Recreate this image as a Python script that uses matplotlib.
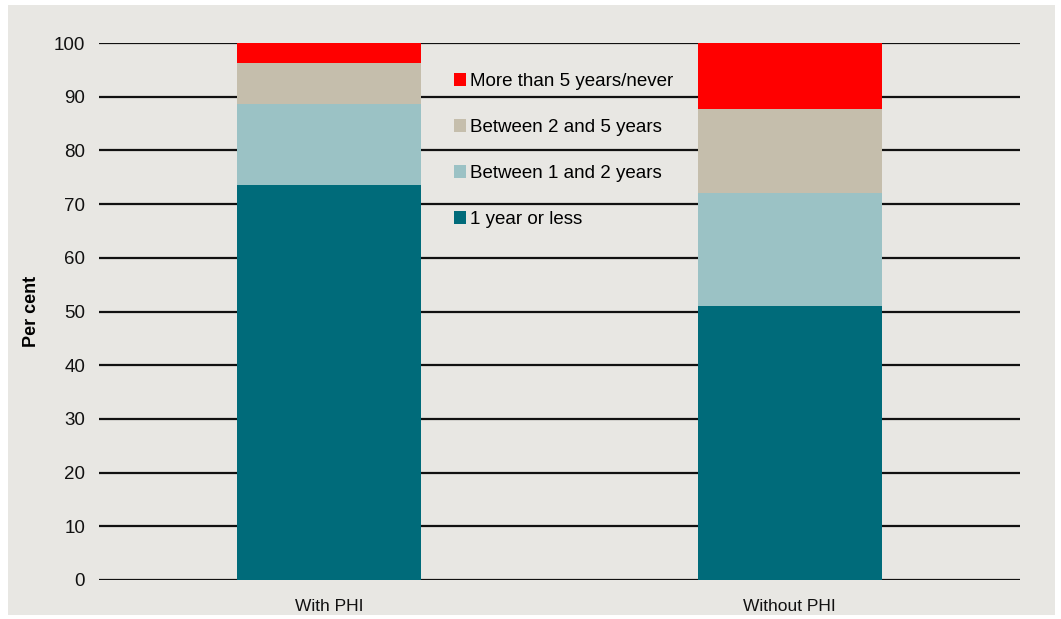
import matplotlib.pyplot as plt
import matplotlib.patches as patches
import numpy as np

plt.rcParams['font.family'] = ['Liberation Sans Narrow', 'Liberation Sans', 'DejaVu Sans']

# Data
groups = ["With PHI", "Without PHI"]
series_labels = ["1 year or less", "Between 1 and 2 years",
                 "Between 2 and 5 years", "More than 5 years/never"]
one_year_or_less = [73.6, 51.0]
one_to_two = [15.0, 21.1]
two_to_five = [7.7, 15.7]
more_than_five = [3.7, 12.2]
series_values = [one_year_or_less, one_to_two, two_to_five, more_than_five]
colors = ['#006B7A', '#9BC2C5', '#C5BEAC', '#FF0000']

BG = '#E8E7E3'

fig = plt.figure(figsize=(10.61, 6.19), dpi=100, facecolor='white')
# grey panel behind chart
fig.patches.append(patches.Rectangle((8 / 1061, 4 / 619), 1047 / 1061, 610 / 619,
                                     transform=fig.transFigure, facecolor=BG,
                                     edgecolor='none', zorder=-10))
ax = fig.add_axes([99 / 1061, 39 / 619, 921 / 1061, 537 / 619])
ax.set_zorder(1)
ax.set_facecolor('none')

x = np.arange(len(groups))
bottom = np.zeros(len(groups))
bars = []
for vals, col, lab in zip(series_values, colors, series_labels):
    b = ax.bar(x, vals, 0.4, bottom=bottom, color=col, label=lab, edgecolor='none', zorder=3)
    bars.append(b)
    bottom += np.array(vals)

ax.set_xlim(-0.5, 1.5)
ax.set_ylim(0, 100)
ax.set_yticks(np.arange(0, 101, 10))
ax.yaxis.grid(True, color='#111111', linewidth=1.6)
ax.set_axisbelow(True)
for s in ax.spines.values():
    s.set_visible(False)
ax.tick_params(axis='both', length=0)
ax.tick_params(axis='y', labelsize=13.5, pad=10, colors='#111111')
ax.set_xticks(x)
ax.set_xticklabels(groups, fontsize=12.5, color='#111111')
ax.tick_params(axis='x', pad=14)
ax.set_ylabel('Per cent', fontsize=13, fontweight='bold', labelpad=10)

leg = ax.legend(handles=bars[::-1], loc='upper left',
                bbox_to_anchor=(437 / 1061, 1 - 56 / 619), bbox_transform=fig.transFigure,
                frameon=False, fontsize=13.5, handlelength=0.65, handleheight=0.65,
                handletextpad=0.2, labelspacing=1.55)

plt.savefig('out.png', dpi=100, facecolor='white')
